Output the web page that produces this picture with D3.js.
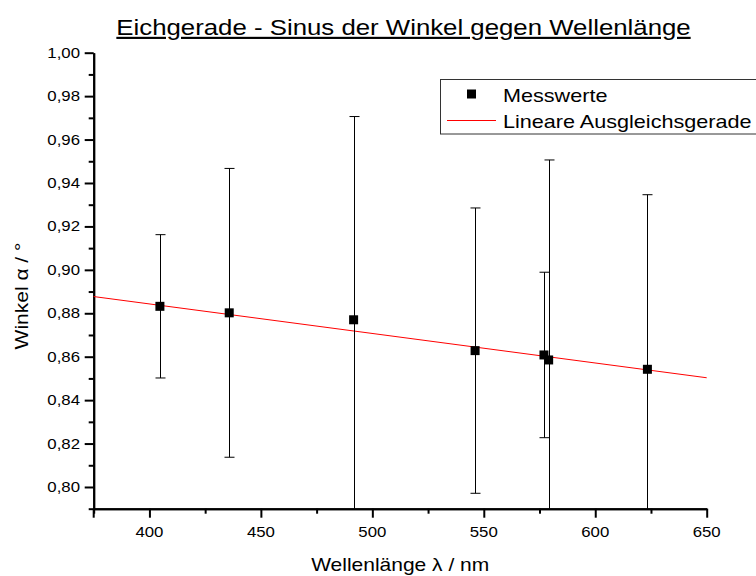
<!DOCTYPE html>
<html><head><meta charset="utf-8">
<script src="https://cdn.jsdelivr.net/npm/d3@7"></script>
<style>
html,body{margin:0;padding:0;background:#fff;}
text{font-family:"Liberation Sans",Arial,sans-serif;fill:#000;}
</style></head>
<body><svg id="c" width="756" height="576"></svg>
<script>
// ---- data ----
const wavelength = [404.7, 435.8, 491.6, 546.1, 577.0, 579.1, 623.4];
const sinAlpha   = [0.8832, 0.8802, 0.8770, 0.8628, 0.8608, 0.8585, 0.8542];
const sinError   = [0.0330, 0.0665, 0.0936, 0.0657, 0.0381, 0.0921, 0.0804];
const fitX = [375, 650];
const fitY = [0.8877, 0.8503];
const xMajorTicks = [400, 450, 500, 550, 600, 650];
const xMinorTicks = [375, 425, 475, 525, 575, 625];
const yMajorTicks = [0.80, 0.82, 0.84, 0.86, 0.88, 0.90, 0.92, 0.94, 0.96, 0.98, 1.00];
const yMinorTicks = [0.79, 0.81, 0.83, 0.85, 0.87, 0.89, 0.91, 0.93, 0.95, 0.97, 0.99];
const titleText = "Eichgerade - Sinus der Winkel gegen Wellenlänge";
const xLabel = "Wellenlänge λ / nm";
const yLabel = "Winkel α / °";
const legendLabels = ["Messwerte", "Lineare Ausgleichsgerade"];

// ---- layout ----
const SX = 1.2; // horizontal text stretch
const pL = 93.7, pR = 706.7, pT = 52.7, pB = 508.7;
const svg = d3.select("#c");
const x = d3.scaleLinear().domain([375, 650]).range([pL, pR]);
const y = d3.scaleLinear().domain([0.79, 1.00]).range([pB, pT]);
const fmt = d3.formatLocale({decimal: ",", thousands: ".", grouping: [3], currency: ["", "€"]}).format(".2f");

function stretchedText(g, px, py, str, size, anchor, extra) {
  return g.append("text")
    .attr("transform", `translate(${px},${py}) ${extra || ""} scale(${SX},1)`)
    .attr("text-anchor", anchor)
    .style("font-size", size + "px")
    .text(str);
}

// clip
svg.append("clipPath").attr("id", "plot").append("rect")
  .attr("x", pL).attr("y", pT - 20).attr("width", pR - pL + 50).attr("height", pB - pT + 20);

// axes
const axStyle = g => { g.selectAll("path,line").attr("stroke", "#000").attr("stroke-width", 2); g.selectAll("text").remove(); };
svg.append("g").attr("transform", `translate(0,${pB})`)
  .call(d3.axisBottom(x).tickValues(xMajorTicks).tickSize(9).tickSizeOuter(0)).call(axStyle);
svg.append("g").attr("transform", `translate(0,${pB})`)
  .call(d3.axisBottom(x).tickValues(xMinorTicks).tickSize(5).tickSizeOuter(0)).call(axStyle);
svg.append("g").attr("transform", `translate(${pL},0)`)
  .call(d3.axisLeft(y).tickValues(yMajorTicks).tickSize(9).tickSizeOuter(0)).call(axStyle);
svg.append("g").attr("transform", `translate(${pL},0)`)
  .call(d3.axisLeft(y).tickValues(yMinorTicks).tickSize(5).tickSizeOuter(0)).call(axStyle);
svg.append("line").attr("x1", pL).attr("x2", pL).attr("y1", pB).attr("y2", pB + 9)
  .attr("stroke", "#000").attr("stroke-width", 2);

// tick labels
const tl = svg.append("g");
xMajorTicks.forEach(v => stretchedText(tl, x(v), 537, String(v), 14, "middle"));
yMajorTicks.forEach(v => stretchedText(tl, 80, y(v) + 5, fmt(v), 14, "end"));

// axis labels
stretchedText(svg, (pL + pR) / 2, 571, xLabel, 17.5, "middle");
stretchedText(svg, 28, 296, yLabel, 17.5, "middle", "rotate(-90)");

// title
const tt = stretchedText(svg, 403.5, 35, titleText, 21.5, "middle");
tt.style("text-decoration", "underline");

// fit line
svg.append("line")
  .attr("x1", x(fitX[0])).attr("y1", y(fitY[0]))
  .attr("x2", x(fitX[1])).attr("y2", y(fitY[1]))
  .attr("stroke", "#ff0000").attr("stroke-width", 1);

// error bars
const data = wavelength.map((w, i) => ({w, s: sinAlpha[i], e: sinError[i]}));
const eb = svg.append("g").attr("clip-path", "url(#plot)").attr("stroke", "#000").attr("stroke-width", 1);
data.forEach(d => {
  const cx = Math.round(x(d.w)) + 0.5;
  eb.append("line").attr("x1", cx).attr("x2", cx).attr("y1", y(d.s + d.e)).attr("y2", y(d.s - d.e));
  [d.s + d.e, d.s - d.e].forEach(v => {
    eb.append("line").attr("x1", cx - 5).attr("x2", cx + 5).attr("y1", y(v)).attr("y2", y(v));
  });
});

// markers
svg.append("g").selectAll("rect").data(data).join("rect")
  .attr("x", d => x(d.w) - 4.5).attr("y", d => y(d.s) - 4.5)
  .attr("width", 9).attr("height", 9).attr("fill", "#000");

// legend
const lg = svg.append("g");
lg.append("rect").attr("x", 440.5).attr("y", 79.5).attr("width", 340).attr("height", 54.5)
  .attr("fill", "#fff").attr("stroke", "#333").attr("stroke-width", 1);
lg.append("rect").attr("x", 467).attr("y", 89.5).attr("width", 9).attr("height", 9).attr("fill", "#000");
lg.append("line").attr("x1", 447).attr("x2", 496).attr("y1", 120.5).attr("y2", 120.5)
  .attr("stroke", "#ff0000").attr("stroke-width", 1);
stretchedText(lg, 503, 101.5, legendLabels[0], 18, "start");
stretchedText(lg, 503, 127.5, legendLabels[1], 18, "start");
</script></body></html>
